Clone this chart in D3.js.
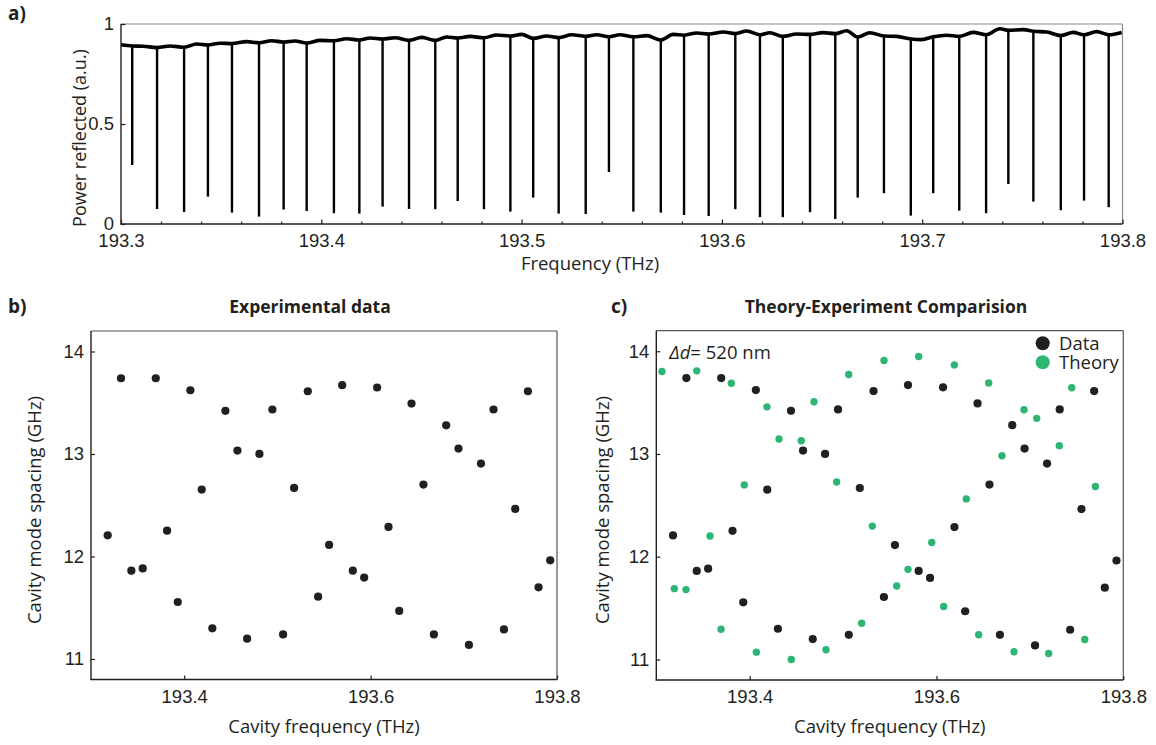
<!DOCTYPE html>
<html>
<head>
<meta charset="utf-8">
<script src="https://cdn.jsdelivr.net/npm/d3@7"></script>
<style>
  html, body { margin: 0; padding: 0; background: #fff; }
  svg { display: block; font-family: "Open Sans", "Noto Sans", sans-serif; }
  .tick text { font-size: 18.5px; fill: #231f20; }
</style>
</head>
<body>
<svg id="fig" width="1156" height="745"></svg>
<script>
// ---- (a) reflection spectrum ----
// slowly varying background level of the reflected power
const baseFreq = [193.3000,193.3056,193.3110,193.3180,193.3245,193.3315,193.3378,193.3434,193.3494,193.3554,
  193.3628,193.3689,193.3752,193.3812,193.3869,193.3927,193.3994,193.4063,193.4127,193.4190,
  193.4243,193.4306,193.4368,193.4438,193.4501,193.4569,193.4626,193.4681,193.4742,193.4812,
  193.4876,193.4944,193.5001,193.5058,193.5125,193.5185,193.5250,193.5320,193.5375,193.5436,
  193.5491,193.5558,193.5625,193.5695,193.5757,193.5811,193.5874,193.5934,193.6007,193.6067,
  193.6124,193.6190,193.6240,193.6304,193.6373,193.6440,193.6506,193.6566,193.6623,193.6678,
  193.6739,193.6809,193.6873,193.6943,193.6998,193.7055,193.7122,193.7185,193.7255,193.7319,
  193.7388,193.7430,193.7505,193.7555,193.7622,193.7692,193.7754,193.7808,193.7871,193.7931,193.7996];
const baseLevel = [0.896,0.890,0.889,0.882,0.890,0.884,0.900,0.895,0.904,0.902,
  0.912,0.906,0.916,0.910,0.915,0.905,0.918,0.916,0.926,0.920,
  0.930,0.925,0.931,0.918,0.933,0.918,0.935,0.930,0.938,0.931,
  0.945,0.940,0.948,0.928,0.940,0.932,0.946,0.938,0.946,0.936,
  0.946,0.936,0.942,0.920,0.948,0.944,0.955,0.950,0.960,0.952,
  0.965,0.946,0.956,0.938,0.950,0.948,0.957,0.952,0.966,0.935,
  0.956,0.940,0.938,0.925,0.922,0.936,0.944,0.938,0.958,0.946,
  0.976,0.968,0.972,0.964,0.960,0.942,0.958,0.946,0.962,0.946,0.958];

// cavity resonances: centre frequency (THz) and minimum reflected power
const dipFreq = [193.3056,193.3180,193.3315,193.3434,193.3554,193.3689,193.3812,193.3927,193.4063,193.4190,
  193.4306,193.4438,193.4569,193.4681,193.4812,193.4944,193.5058,193.5185,193.5320,193.5436,
  193.5558,193.5695,193.5811,193.5934,193.6067,193.6190,193.6304,193.6440,193.6566,193.6678,
  193.6809,193.6943,193.7055,193.7185,193.7319,193.7430,193.7555,193.7692,193.7808,193.7931];
const dipDepth = [0.295,0.075,0.060,0.137,0.057,0.037,0.072,0.065,0.054,0.052,
  0.087,0.075,0.074,0.115,0.074,0.062,0.132,0.052,0.050,0.260,
  0.062,0.057,0.045,0.040,0.074,0.034,0.034,0.059,0.025,0.132,
  0.154,0.042,0.154,0.067,0.054,0.200,0.112,0.069,0.117,0.084];

const specMajorTicks = [193.3, 193.4, 193.5, 193.6, 193.7, 193.8];
const specMinorTicks = [193.32,193.34,193.36,193.38,193.42,193.44,193.46,193.48,193.52,193.54,193.56,193.58,
  193.62,193.64,193.66,193.68,193.72,193.74,193.76,193.78];
const powerTicks = [0, 0.5, 1];

// ---- (b), (c) mode spacing vs cavity frequency ----
const dataFreq = [193.3179,193.3322,193.3433,193.3555,193.3695,193.3816,193.3931,193.4066,193.4188,193.4302,
  193.4442,193.4571,193.4675,193.4807,193.4946,193.5061,193.5179,193.5326,193.5437,193.5555,
  193.5695,193.5809,193.5931,193.6070,193.6192,193.6307,193.6439,193.6567,193.6679,193.6811,
  193.6943,193.7055,193.7184,193.7319,193.7431,193.7552,193.7688,193.7802,193.7927];
const dataSpacing = [12.207,13.739,11.862,11.884,13.739,12.252,11.556,13.622,12.653,11.299,
  13.421,13.033,11.198,13.001,13.434,11.240,12.669,13.612,11.608,12.113,
  13.671,11.862,11.794,13.649,12.289,11.469,13.492,12.702,11.240,13.280,
  13.053,11.137,12.907,13.434,11.289,12.464,13.612,11.699,11.963];

const theoryFreq = [193.3061,193.3193,193.3318,193.3433,193.3575,193.3693,193.3803,193.3942,193.4071,193.4185,
  193.4314,193.4445,193.4552,193.4688,193.4817,193.4931,193.5060,193.5199,193.5313,193.5438,
  193.5574,193.5695,193.5809,193.5949,193.6077,193.6191,193.6319,193.6452,193.6559,193.6701,
  193.6830,193.6937,193.7073,193.7201,193.7315,193.7448,193.7587,193.7701];
const theorySpacing = [13.803,11.689,11.680,13.809,12.201,11.294,13.689,12.699,11.071,13.459,
  13.146,11.000,13.129,13.508,11.094,12.728,13.774,11.353,12.298,13.910,
  11.715,11.877,13.949,12.139,11.515,13.867,12.563,11.240,13.692,12.983,
  11.075,13.430,13.347,11.058,13.081,13.644,11.194,12.683];

const cavFreqTicks = [193.4, 193.6, 193.8];
const spacingTicks = [11, 12, 13, 14];

const INK = "#231f20";
const GREEN = "#2db673";
const svg = d3.select("#fig");

function frame(g, x0, x1, y0, y1, edge) {
  g.append("line").attr("x1", x0).attr("x2", x1).attr("y1", y0).attr("y2", y0)
    .attr("stroke", edge).attr("stroke-width", 1.2);
  g.append("line").attr("x1", x1).attr("x2", x1).attr("y1", y0).attr("y2", y1)
    .attr("stroke", edge).attr("stroke-width", 1.2);
  g.append("line").attr("x1", x0).attr("x2", x0).attr("y1", y0).attr("y2", y1 + 0.6)
    .attr("stroke", INK).attr("stroke-width", 1.4);
  g.append("line").attr("x1", x0 - 0.6).attr("x2", x1).attr("y1", y1).attr("y2", y1)
    .attr("stroke", INK).attr("stroke-width", 1.4);
}

function styleAxis(sel) {
  sel.select(".domain").remove();
  sel.selectAll(".tick line").attr("stroke", INK).attr("stroke-width", 1.2);
}

// ===== panel (a) =====
{
  const L = 121, R = 1122.5, T = 24, B = 224;
  const x = d3.scaleLinear().domain([193.3, 193.8]).range([L, R]);
  const y = d3.scaleLinear().domain([0, 1]).range([B, T]);
  const g = svg.append("g");

  // background trace
  const line = d3.line().x((d, i) => x(baseFreq[i])).y(d => y(d)).curve(d3.curveMonotoneX);
  g.append("path").attr("d", line(baseLevel))
    .attr("fill", "none").attr("stroke", "#000").attr("stroke-width", 3.6)
    .attr("stroke-linejoin", "round");

  // resonance dips, dropping from the background level at the same frequency
  const baseAt = f => baseLevel[d3.minIndex(baseFreq, v => Math.abs(v - f))];
  g.append("g").selectAll("line").data(dipFreq).join("line")
    .attr("x1", d => x(d)).attr("x2", d => x(d))
    .attr("y1", d => y(baseAt(d)))
    .attr("y2", (d, i) => y(dipDepth[i]))
    .attr("stroke", "#000").attr("stroke-width", 2.4);

  frame(g, L, R, T, B, "#8a8a8a");

  g.append("g").attr("transform", `translate(0,${B})`)
    .call(d3.axisBottom(x).tickValues(specMinorTicks).tickSize(-2.5).tickFormat(""))
    .call(styleAxis);
  g.append("g").attr("transform", `translate(0,${B})`)
    .call(d3.axisBottom(x).tickValues(specMajorTicks).tickSize(-4.5).tickPadding(10.2)
      .tickFormat(d3.format(".1f")))
    .call(styleAxis);
  g.append("g").attr("transform", `translate(${L},0)`)
    .call(d3.axisLeft(y).tickValues(powerTicks).tickSize(-4.5).tickPadding(7)
      .tickFormat(d => d3.format("~g")(d)))
    .call(styleAxis);

  g.append("text").attr("x", 590).attr("y", 269.5).attr("text-anchor", "middle")
    .attr("font-size", 18.5).attr("fill", INK).text("Frequency (THz)");
  g.append("text").attr("transform", "translate(85.5,138) rotate(-90)")
    .attr("text-anchor", "middle").attr("font-size", 18).attr("fill", INK)
    .text("Power reflected (a.u.)");
  svg.append("text").attr("x", 8).attr("y", 20).attr("font-size", 19)
    .attr("font-weight", "bold").attr("fill", INK).text("a)");
}

// ===== panels (b) and (c) =====
function spacingPanel(opt) {
  const { L, R, T, B } = opt;
  const x = d3.scaleLinear().domain([193.3, 193.8]).range([L, R]);
  const y = d3.scaleLinear().domain([10.8, 14.2]).range([B, T]);
  const g = svg.append("g");

  frame(g, L, R, T, B, "#555");

  g.append("g").attr("transform", `translate(0,${B})`)
    .call(d3.axisBottom(x).tickValues(cavFreqTicks).tickSize(-4).tickPadding(10.2)
      .tickFormat(d3.format(".1f")))
    .call(styleAxis);
  g.append("g").attr("transform", `translate(${L},0)`)
    .call(d3.axisLeft(y).tickValues(spacingTicks).tickSize(-4).tickPadding(7)
      .tickFormat(d3.format("d")))
    .call(styleAxis);

  if (opt.theory) {
    g.append("g").selectAll("circle").data(theoryFreq).join("circle")
      .attr("cx", d => x(d)).attr("cy", (d, i) => y(theorySpacing[i]))
      .attr("r", 3.7).attr("fill", GREEN);
  }
  g.append("g").selectAll("circle").data(dataFreq).join("circle")
    .attr("cx", d => x(d)).attr("cy", (d, i) => y(dataSpacing[i]))
    .attr("r", 4.1).attr("fill", INK);

  g.append("text").attr("x", opt.titleX).attr("y", 312.7).attr("text-anchor", "middle")
    .attr("font-size", 17.5).attr("font-weight", "bold").attr("fill", INK).text(opt.title);
  g.append("text").attr("x", (L + R) / 2).attr("y", 733).attr("text-anchor", "middle")
    .attr("font-size", 18.5).attr("fill", INK).text("Cavity frequency (THz)");
  g.append("text").attr("transform", `translate(${opt.yLabelX},510) rotate(-90)`)
    .attr("text-anchor", "middle").attr("font-size", 18.5).attr("fill", INK)
    .text("Cavity mode spacing (GHz)");
  svg.append("text").attr("x", opt.tagX).attr("y", 313).attr("font-size", 19)
    .attr("font-weight", "bold").attr("fill", INK).text(opt.tag);
  return g;
}

spacingPanel({ L: 91, R: 557, T: 331, B: 679.5, title: "Experimental data", titleX: 310,
  yLabelX: 40.5, tag: "b)", tagX: 8 });

const gc = spacingPanel({ L: 656.3, R: 1123.3, T: 330.7, B: 680, theory: true,
  title: "Theory-Experiment Comparision", titleX: 886, yLabelX: 609, tag: "c)", tagX: 611 });

// thickness offset annotation
const ann = gc.append("text").attr("x", 669.3).attr("y", 359).attr("font-size", 18.5).attr("fill", INK);
ann.append("tspan").attr("font-style", "italic").text("Δd");
ann.append("tspan").text("= 520 nm");

// legend
const legend = gc.append("g");
[["Data", INK, 343.3, 350], ["Theory", GREEN, 362.3, 369]].forEach(([label, c, cy, ty]) => {
  legend.append("circle").attr("cx", 1042.7).attr("cy", cy).attr("r", 7).attr("fill", c);
  legend.append("text").attr("x", 1059).attr("y", ty).attr("font-size", 18.5)
    .attr("fill", INK).text(label);
});
</script>
</body>
</html>
